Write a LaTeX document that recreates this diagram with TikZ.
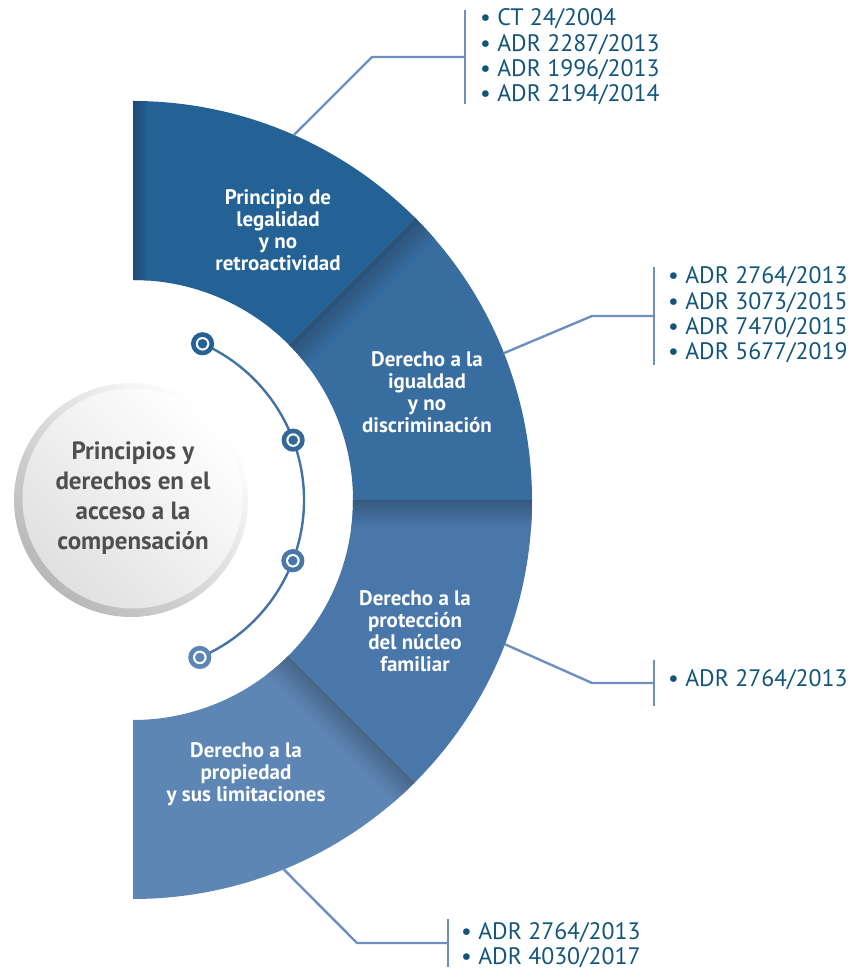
\documentclass[tikz,border=0pt]{standalone}
\usepackage{fontspec}
\setmainfont{PT Sans}
\usetikzlibrary{calc}
\definecolor{segA}{HTML}{246195}
\definecolor{segB}{HTML}{386DA0}
\definecolor{segC}{HTML}{4977AA}
\definecolor{segD}{HTML}{5E86B5}
\definecolor{lineC}{HTML}{6E8FBF}
\definecolor{arcC}{HTML}{4472A5}
\definecolor{refC}{HTML}{13557A}
\definecolor{ctrC}{HTML}{4F4F4F}
\newcommand{\SecPath}[2]{($(C)+(#1:220)$) arc[start angle=#1,end angle=#2,radius=220] -- ($(C)+(#2:399)$) arc[start angle=#2,end angle=#1,radius=399] -- cycle}
\tikzset{
  seglabel/.style={text=white, align=center, font=\fontsize{21}{21.8}\selectfont\bfseries, inner sep=0pt},
  reflist/.style={text=refC, align=left, anchor=west, font=\fontsize{23.8}{25.3}\selectfont, inner sep=0pt},
  callout/.style={draw=lineC, line width=2.4pt},
  dotmark/.style={circle, draw=#1, line width=4.6pt, fill=white, minimum size=18.5pt, inner sep=0pt,
    path picture={\fill[#1] (path picture bounding box.center) circle (4.8pt);}},
}
\begin{document}
\begin{tikzpicture}[x=1pt,y=1pt]
\useasboundingbox (0,0) rectangle (854,975);
\coordinate (C) at (133,475);

% segments
\fill[segA] \SecPath{45}{90};
\fill[segB] \SecPath{0}{45};
\fill[segC] \SecPath{-45}{0};
\fill[segD] \SecPath{-90}{-45};

% shadows
\begin{scope}
  \clip \SecPath{45}{90};
  \shade[left color=segA!78!black, right color=segA] (133,680) rectangle (148,880);
\end{scope}
\begin{scope}
  \clip \SecPath{0}{45};
  \begin{scope}[transform canvas={rotate around={45:(C)}}]
    \shade[top color=segB!75!black, bottom color=segB] ($(C)+(200,-30)$) rectangle ($(C)+(420,0)$);
  \end{scope}
\end{scope}
\begin{scope}
  \clip \SecPath{-45}{0};
  \shade[top color=segC!75!black, bottom color=segC] ($(C)+(200,-28)$) rectangle ($(C)+(420,0)$);
\end{scope}
\begin{scope}
  \clip \SecPath{-90}{-45};
  \begin{scope}[transform canvas={rotate around={-45:(C)}}]
    \shade[top color=segD!75!black, bottom color=segD] ($(C)+(200,-30)$) rectangle ($(C)+(420,0)$);
  \end{scope}
\end{scope}

% segment labels
\node[seglabel] (t1) at (278,745) {Principio de\\legalidad\\y no\\retroactividad};
\node[seglabel] (t2) at (427,583) {Derecho a la\\igualdad\\y no\\discriminación};
\node[seglabel] (t3) at (415,344) {Derecho a la\\protección\\del núcleo\\familiar};
\node[seglabel] (t4) at (246,201) {Derecho a la\\propiedad\\y sus limitaciones};

% central circle
\coordinate (cc) at (131,475);
\shade[top color=white, bottom color=black!28, shading angle=-45] (cc) circle (117);
\shade[top color=white, bottom color=black!12, shading angle=-45] ($(cc)+(1.5,1.5)$) circle (110);
\node[text=ctrC, align=center, font=\fontsize{25}{30}\selectfont\bfseries] (ctr) at (133,477)
  {Principios y\\derechos en el\\acceso a la\\compensación};

% inner arc with dots
\draw[arcC, line width=2.4pt] ($(C)+(66:171)$) arc[start angle=66,end angle=-67,radius=171];
\node[dotmark=segA] (d1) at ($(C)+(66:171)$) {};
\node[dotmark=segB!95!black] (d2) at ($(C)+(20.5:171)$) {};
\node[dotmark=segC] (d3) at ($(C)+(-20.8:171)$) {};
\node[dotmark=segD] (d4) at ($(C)+(-67:171)$) {};

% callouts
\coordinate (s1) at ($(C)+(66.2:399)$);
\coordinate (k1) at (372,918);
\coordinate (b1) at (465,918);
\draw[callout] (s1) -- (k1) -- (b1);
\draw[callout] ($(b1)+(0,47)$) -- ($(b1)+(0,-47)$);
\node[reflist] (l1) at (480,918) {\textbullet\ CT 24/2004\\\textbullet\ ADR 2287/2013\\\textbullet\ ADR 1996/2013\\\textbullet\ ADR 2194/2014};

\coordinate (s2) at ($(C)+(21.6:399)$);
\coordinate (k2) at (592,659);
\coordinate (b2) at (654,659);
\draw[callout] (s2) -- (k2) -- (b2);
\draw[callout] ($(b2)+(0,49)$) -- ($(b2)+(0,-49)$);
\node[reflist] (l2) at (668,660) {\textbullet\ ADR 2764/2013\\\textbullet\ ADR 3073/2015\\\textbullet\ ADR 7470/2015\\\textbullet\ ADR 5677/2019};

\coordinate (s3) at ($(C)+(-21.2:399)$);
\coordinate (k3) at (592,292);
\coordinate (b3) at (654,292);
\draw[callout] (s3) -- (k3) -- (b3);
\draw[callout] ($(b3)+(0,23)$) -- ($(b3)+(0,-23)$);
\node[reflist] (l3) at (668,295) {\textbullet\ ADR 2764/2013};

\coordinate (s4) at ($(C)+(-67.8:399)$);
\coordinate (k4) at (357,32);
\coordinate (b4) at (448,32);
\draw[callout] (s4) -- (k4) -- (b4);
\draw[callout] ($(b4)+(0,24)$) -- ($(b4)+(0,-24)$);
\node[reflist] (l4) at (461,30) {\textbullet\ ADR 2764/2013\\\textbullet\ ADR 4030/2017};
\end{tikzpicture}
\end{document}
